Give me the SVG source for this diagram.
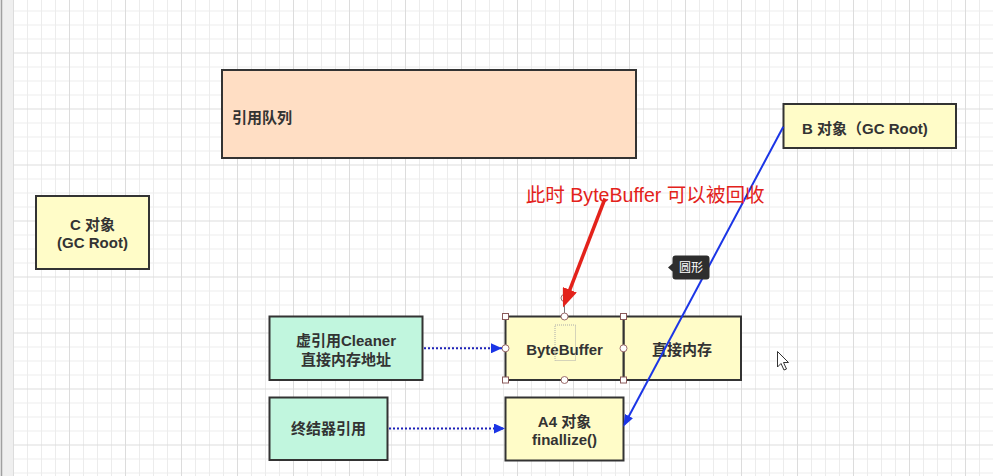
<svg xmlns="http://www.w3.org/2000/svg" width="993" height="476" viewBox="0 0 993 476">
<defs>
<pattern id="grid" x="13" y="-3.5" width="56" height="56" patternUnits="userSpaceOnUse">
<path d="M14.5,0V56M28.5,0V56M42.5,0V56M0,14.5H56M0,28.5H56M0,42.5H56" stroke="#ececec" stroke-width="1" fill="none"/>
<path d="M0.5,0V56M0,0.5H56" stroke="#dcdcdc" stroke-width="1" fill="none"/>
</pattern>
<marker id="blueHead" markerUnits="userSpaceOnUse" markerWidth="12" markerHeight="10" refX="11" refY="5" orient="auto">
<path d="M0,0L11,5L0,10z" fill="#1b35e6"/>
</marker>
<marker id="blueHead2" markerUnits="userSpaceOnUse" markerWidth="13" markerHeight="9" refX="9" refY="4.5" orient="auto">
<path d="M0,0L12,4.5L0,9z" fill="#1b35e6"/>
</marker>
<marker id="redHead" markerUnits="userSpaceOnUse" markerWidth="20" markerHeight="15" refX="14" refY="7.5" orient="auto">
<path d="M0,0L19,7.5L0,15z" fill="#e3221b"/>
</marker>
</defs>
<style>
.box{stroke:#333;stroke-width:2}
.yellow{fill:#fffcc8}
.peach{fill:#ffdec4}
.mint{fill:#c1f6de}
.t{font-family:"Liberation Sans","Noto Sans CJK SC",sans-serif;font-weight:bold;font-size:15px;fill:#333}
.c{text-anchor:middle}
.dotted{stroke:#1c20b8;stroke-width:2;stroke-dasharray:2 2;fill:none}
.handleSq{fill:#fff;stroke:#8a5a5a;stroke-width:1}
.handleCi{fill:#fff;stroke:#9a6a6a;stroke-width:1}
</style>
<rect x="0" y="0" width="993" height="476" fill="#fff"/>
<rect x="0" y="0" width="993" height="476" fill="url(#grid)"/>
<rect x="0" y="0" width="13" height="476" fill="#efefef"/>
<line x1="1.5" y1="0" x2="1.5" y2="476" stroke="#a0a0a0" stroke-width="1.5"/>

<g id="queue">
<rect class="box peach" x="222" y="70" width="414" height="88"/>
<text class="t" x="232" y="123">引用队列</text>
</g>
<g id="bObject">
<rect class="box yellow" x="783.5" y="104" width="172.5" height="44"/>
<text class="t" x="802" y="134">B 对象（GC Root)</text>
</g>
<g id="cObject">
<rect class="box yellow" x="36" y="196" width="113" height="73"/>
<text class="t c" x="92.5" y="230">C 对象</text>
<text class="t c" x="92.5" y="248">(GC Root)</text>
</g>
<g id="cleaner">
<rect class="box mint" x="269.5" y="316.5" width="153" height="63.5"/>
<text class="t c" x="346" y="346">虚引用Cleaner</text>
<text class="t c" x="346" y="364.5">直接内存地址</text>
</g>
<g id="finalizerRef">
<rect class="box mint" x="269.5" y="397.5" width="118" height="62.5"/>
<text class="t c" x="328.5" y="434">终结器引用</text>
</g>
<g id="directMemory">
<rect class="box yellow" x="623.5" y="316.5" width="117.5" height="63.5"/>
<text class="t c" x="682" y="355">直接内存</text>
</g>
<g id="byteBuffer">
<rect class="box yellow" x="505.5" y="316.5" width="118" height="63.5"/>
<text class="t c" x="564.5" y="355">ByteBuffer</text>
</g>
<g id="a4Object">
<rect class="box yellow" x="505.5" y="397.5" width="118" height="63"/>
<text class="t c" x="564.5" y="427">A4 对象</text>
<text class="t c" x="564.5" y="444.5">finallize()</text>
</g>

<g id="selection">
<rect x="555" y="325" width="20.5" height="35.5" fill="none" stroke="#aaa" stroke-width="1" stroke-dasharray="1 1"/>
<line x1="564.5" y1="301" x2="564.5" y2="316.5" stroke="#777" stroke-width="1"/>
<circle class="handleCi" cx="564.5" cy="298" r="3.5"/>
<rect class="handleSq" x="502.5" y="313.5" width="6" height="6"/>
<rect class="handleSq" x="620.5" y="313.5" width="6" height="6"/>
<rect class="handleSq" x="502.5" y="377" width="6" height="6"/>
<rect class="handleSq" x="620.5" y="377" width="6" height="6"/>
<circle class="handleCi" cx="564.5" cy="316.5" r="3.5"/>
<circle class="handleCi" cx="564.5" cy="380" r="3.5"/>
<circle class="handleCi" cx="505.5" cy="348.3" r="3.5"/>
<circle class="handleCi" cx="623.5" cy="348.3" r="3.5"/>
</g>

<g id="connectors">
<line class="dotted" x1="424" y1="348.3" x2="502" y2="348.3" marker-end="url(#blueHead)"/>
<line class="dotted" x1="389" y1="428.5" x2="505" y2="428.5" marker-end="url(#blueHead)"/>
<line x1="783.3" y1="126.7" x2="624.7" y2="424" stroke="#1b35e6" stroke-width="2" marker-end="url(#blueHead2)"/>
<line x1="605" y1="198.5" x2="564.8" y2="302.8" stroke="#e3221b" stroke-width="3.5" marker-end="url(#redHead)"/>
</g>

<g id="note">
<text x="525.7" y="202" font-family="'Liberation Sans','Noto Sans CJK SC',sans-serif" font-size="19.5" fill="#e3221b" textLength="239" lengthAdjust="spacingAndGlyphs">此时 ByteBuffer 可以被回收</text>
</g>

<g id="tooltip">
<path d="M675.5,255.5H706.5a3,3 0 0 1 3,3V276.5a3,3 0 0 1 -3,3H675.5a3,3 0 0 1 -3,-3V271.5L668,267.5L672.5,263.5V258.5a3,3 0 0 1 3,-3z" fill="#2e2e2e"/>
<text x="691" y="272" text-anchor="middle" font-family="'Noto Sans CJK SC',sans-serif" font-size="12" fill="#fff">圆形</text>
</g>

<g id="cursor">
<path d="M777.5,351.5V367L781,363.5L784,370L786.5,369L783.5,362.5H788.5Z" fill="#fff" stroke="#333" stroke-width="1" stroke-linejoin="round"/>
</g>
</svg>
